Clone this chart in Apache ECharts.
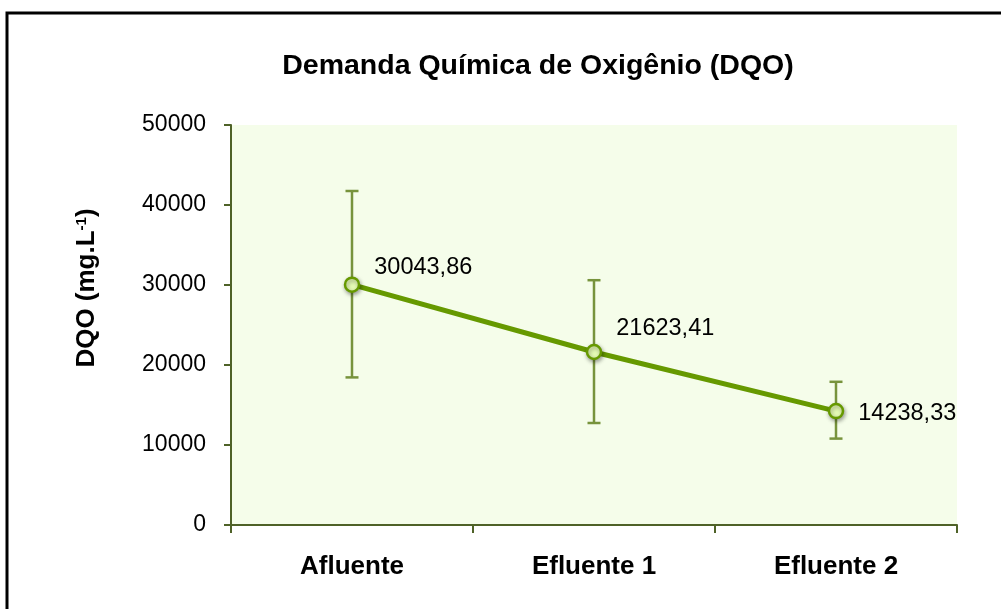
<!DOCTYPE html>
<html>
<head>
<meta charset="utf-8">
<title>Demanda Química de Oxigênio (DQO)</title>
<script src="https://cdn.jsdelivr.net/npm/echarts@6/dist/echarts.min.js"></script>
<style>
  html, body { margin: 0; padding: 0; background: #ffffff; }
  #chart { width: 1001px; height: 609px; }
</style>
</head>
<body>
<div id="chart"></div>
<script>
// Sampling points and mean COD (mg/L)
const categories = ['Afluente', 'Efluente 1', 'Efluente 2'];
const meanValues = [30043.86, 21623.41, 14238.33];
// Lower / upper ends of the error bars
const errorLow = [18450, 12750, 10800];
const errorHigh = [41750, 30600, 17900];
// Value axis ticks
const yTicks = [0, 10000, 20000, 30000, 40000, 50000];

// Per-point nudges for the value labels (pixels)
const labelNudges = [[0, -17], [0, -23], [0, 2]];

const FONT = '"Liberation Sans", Arial, Helvetica, sans-serif';
const LINE_GREEN = '#669900';
const BAR_GREEN = '#77933c';
const AXIS_GREEN = '#4f6228';

const chart = echarts.init(document.getElementById('chart'), null, { renderer: 'canvas' });

const errorData = categories.map((c, i) => [i, errorLow[i], errorHigh[i]]);

chart.setOption({
  animation: false,
  backgroundColor: '#ffffff',
  title: {
    text: 'Demanda Química de Oxigênio (DQO)',
    left: 533,
    textAlign: 'center',
    top: 47,
    textStyle: { fontFamily: FONT, fontSize: 28.5, fontWeight: 'bold', color: '#000' }
  },
  graphic: [{
    type: 'rect',
    silent: true,
    shape: { x: 7, y: 13, width: 1200, height: 800 },
    style: { fill: 'none', stroke: '#000', lineWidth: 3 }
  }],
  grid: {
    left: 231, right: 44, top: 125, bottom: 84,
    show: true,
    backgroundColor: '#f5fdea',
    borderWidth: 0
  },
  xAxis: {
    type: 'category',
    data: categories,
    boundaryGap: true,
    axisLine: { show: true, lineStyle: { color: AXIS_GREEN, width: 2 } },
    axisTick: { show: true, alignWithLabel: false, length: 8, lineStyle: { color: AXIS_GREEN, width: 2 } },
    axisLabel: { margin: 29, fontFamily: FONT, fontSize: 26, fontWeight: 'bold', color: '#000' },
    splitLine: { show: false }
  },
  yAxis: {
    type: 'value',
    min: yTicks[0],
    max: yTicks[yTicks.length - 1],
    interval: yTicks[1] - yTicks[0],
    name: '{a|DQO (mg.L}{s|-1}{a|)}',
    nameLocation: 'middle',
    nameGap: 131,
    nameRotate: 90,
    nameTextStyle: {
      padding: [0, 0, 0, 74],
      rich: {
        a: { fontFamily: FONT, fontSize: 26, fontWeight: 'bold', color: '#000' },
        s: { fontFamily: FONT, fontSize: 15, fontWeight: 'bold', color: '#000', verticalAlign: 'top', padding: [0, 0, 10, 0] }
      }
    },
    axisLine: { show: true, lineStyle: { color: AXIS_GREEN, width: 2 } },
    axisTick: { show: true, length: 7, lineStyle: { color: AXIS_GREEN, width: 2 } },
    axisLabel: {
      margin: 25, fontFamily: FONT, fontSize: 23, color: '#000',
      formatter: v => String(v)
    },
    splitLine: { show: false }
  },
  series: [
    {
      type: 'custom',
      name: 'desvio',
      z: 2,
      data: errorData,
      renderItem: function (params, api) {
        const x = api.value(0);
        const lo = api.coord([x, api.value(1)]);
        const hi = api.coord([x, api.value(2)]);
        const half = 6.5;
        const style = { stroke: BAR_GREEN, lineWidth: 2.5, fill: null };
        return {
          type: 'group',
          children: [
            { type: 'line', shape: { x1: lo[0], y1: lo[1], x2: hi[0], y2: hi[1] }, style: style },
            { type: 'line', shape: { x1: lo[0] - half, y1: lo[1], x2: lo[0] + half, y2: lo[1] }, style: style },
            { type: 'line', shape: { x1: hi[0] - half, y1: hi[1], x2: hi[0] + half, y2: hi[1] }, style: style }
          ]
        };
      }
    },
    {
      type: 'line',
      name: 'DQO',
      z: 3,
      data: meanValues.map((v, i) => ({ value: v, label: { offset: labelNudges[i] } })),
      lineStyle: { color: LINE_GREEN, width: 5 },
      symbol: 'circle',
      symbolSize: 14,
      itemStyle: {
        color: '#e5fbb4',
        borderColor: LINE_GREEN,
        borderWidth: 2.5,
        shadowColor: 'rgba(0,0,0,0.35)',
        shadowBlur: 4,
        shadowOffsetX: 1,
        shadowOffsetY: 2
      },
      label: {
        show: true,
        position: 'right',
        distance: 14,
        fontFamily: FONT,
        fontSize: 23.5,
        color: '#000',
        formatter: p => p.value.toFixed(2).replace('.', ',')
      }
    }
  ]
});
</script>
</body>
</html>
